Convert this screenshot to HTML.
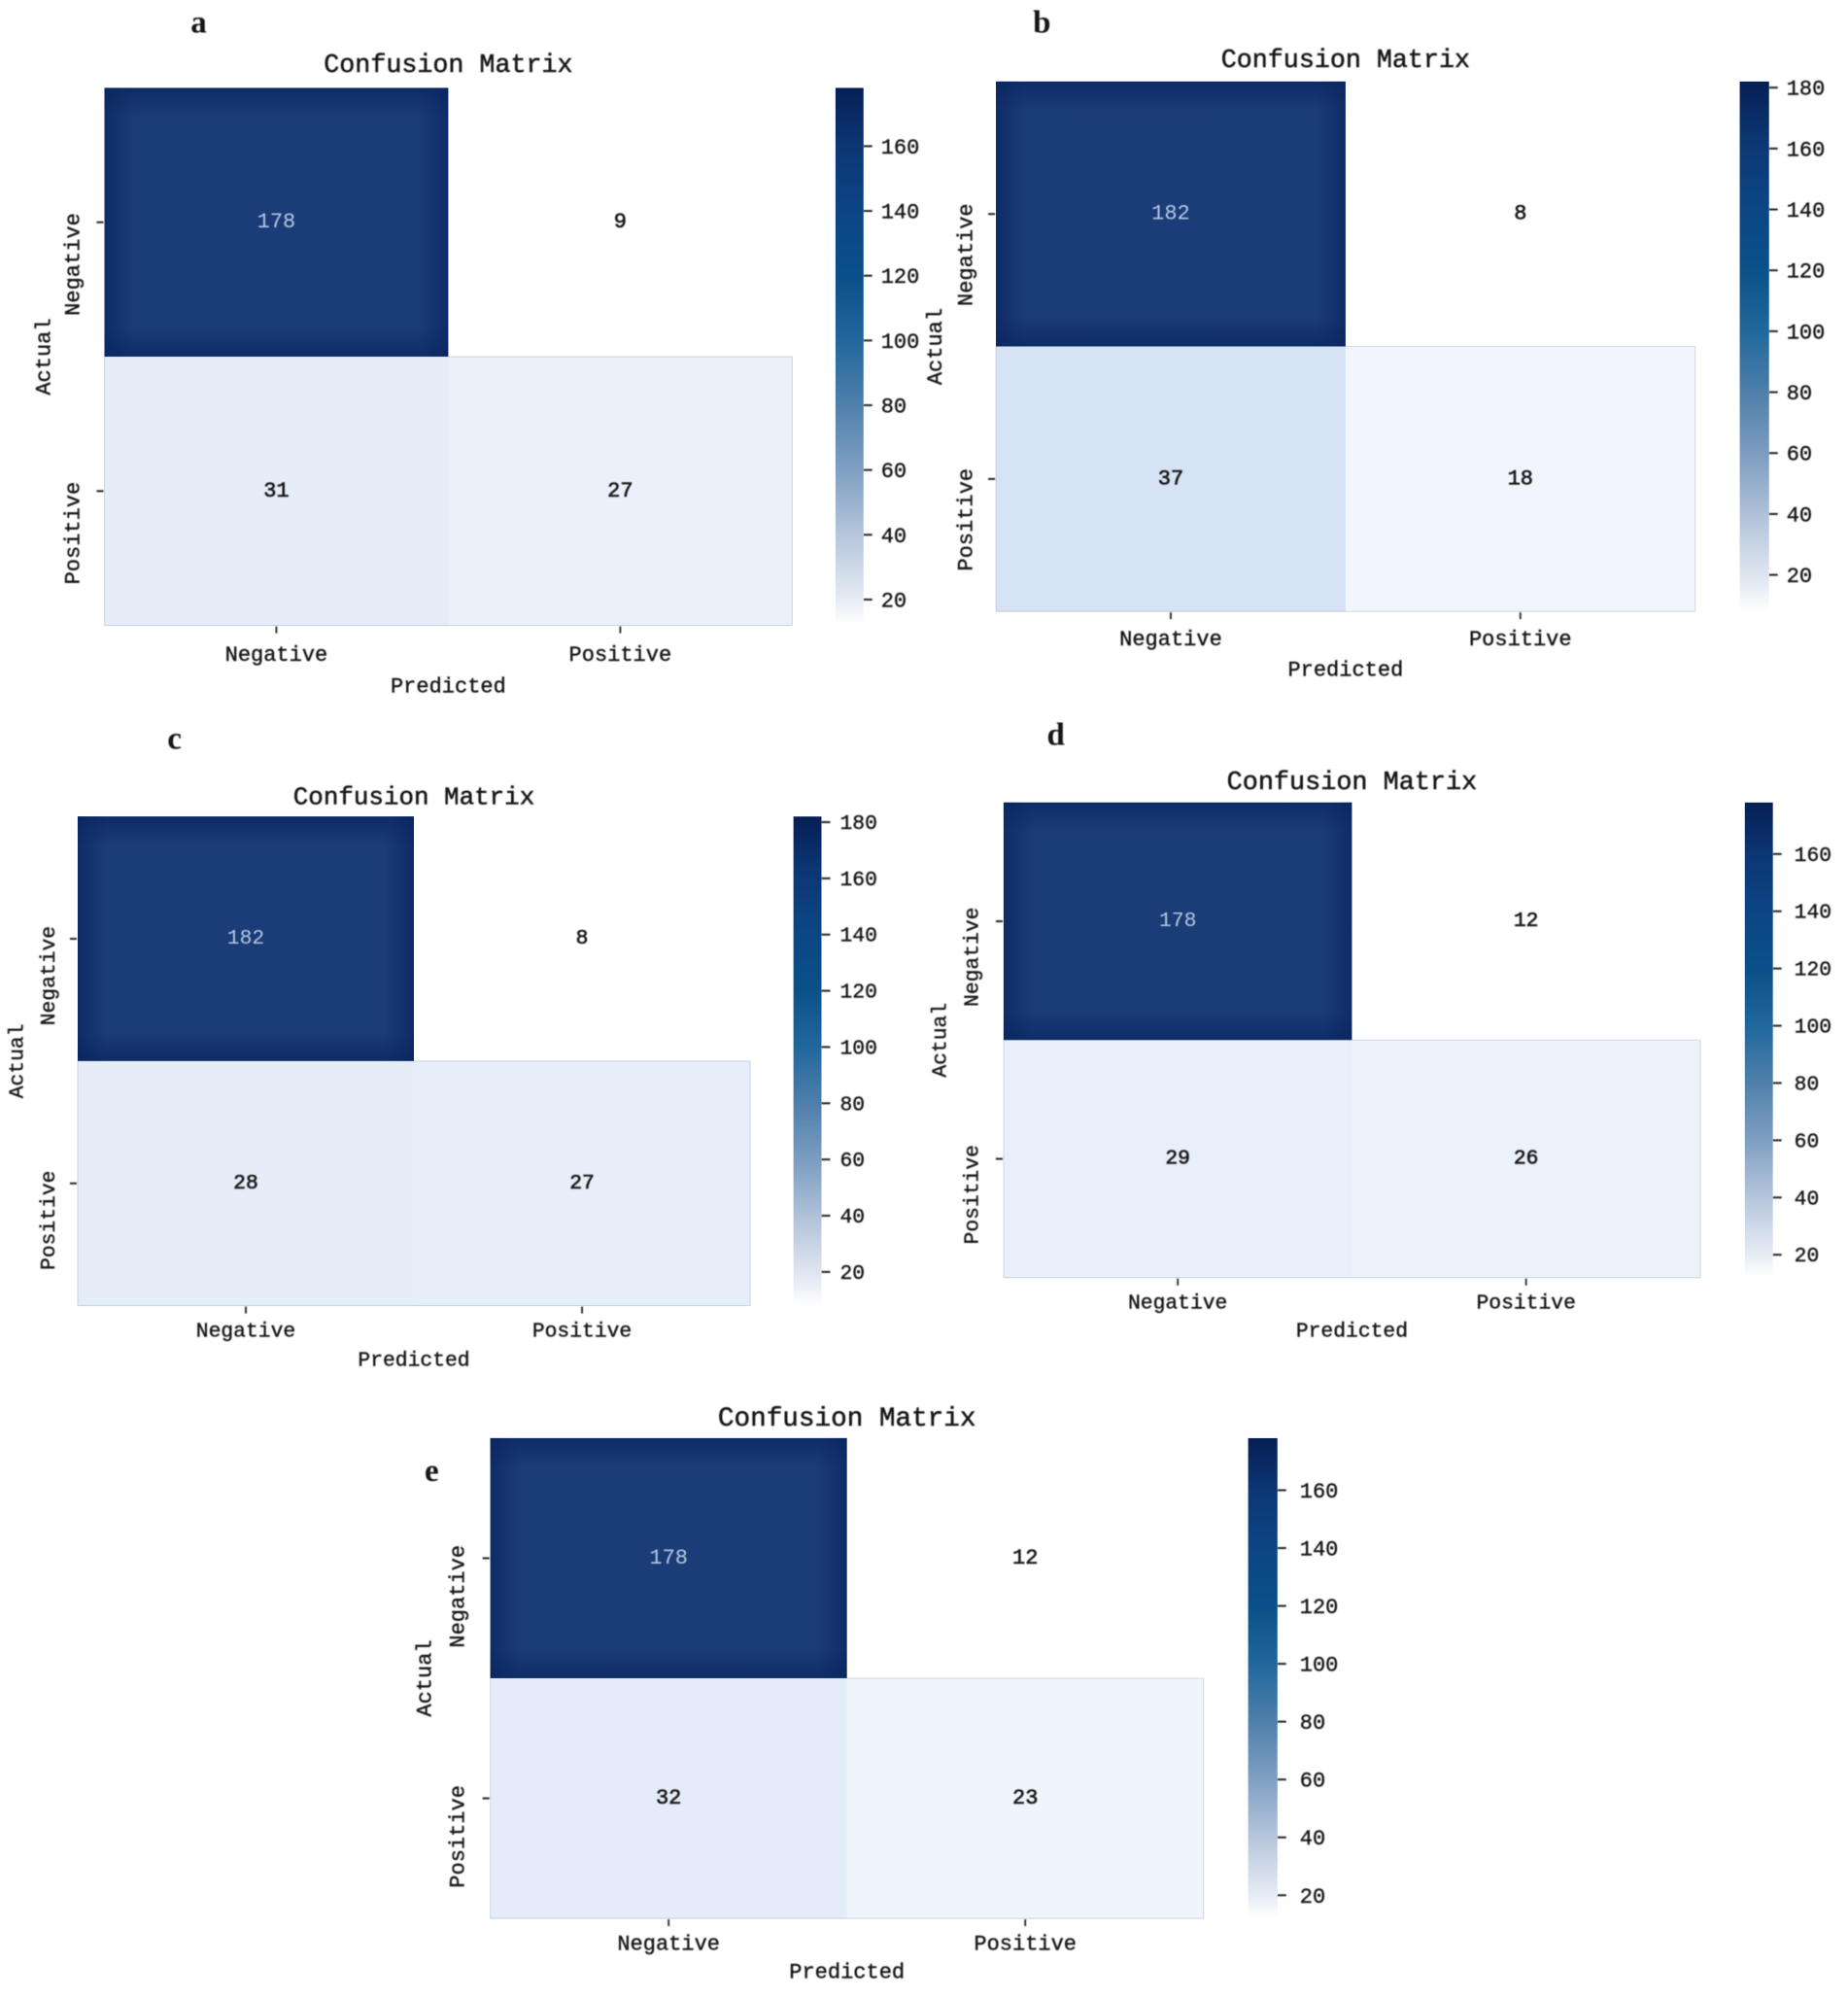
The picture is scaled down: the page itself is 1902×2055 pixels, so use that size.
<!DOCTYPE html>
<html lang="en">
<head>
<meta charset="utf-8">
<title>Confusion matrices</title>
<style>
html,body{margin:0;padding:0;background:#fff;width:1902px;height:2055px;overflow:hidden}
svg{display:block}
text{font-family:"Liberation Mono","DejaVu Sans Mono",monospace;fill:#161616}
</style>
</head>
<body>
<svg id="figure" xmlns="http://www.w3.org/2000/svg" width="1902" height="2055" viewBox="0 0 1902 2055">
  <defs>
    <filter id="soft" x="-10%" y="-10%" width="120%" height="120%"><feGaussianBlur stdDeviation="0.6"/></filter>
    <linearGradient id="edge-l" x1="0" y1="0" x2="1" y2="0"><stop offset="0" stop-color="#0a2660" stop-opacity="0.75"/><stop offset="1" stop-color="#0a2660" stop-opacity="0"/></linearGradient>
    <linearGradient id="edge-r" x1="1" y1="0" x2="0" y2="0"><stop offset="0" stop-color="#0a2660" stop-opacity="0.75"/><stop offset="1" stop-color="#0a2660" stop-opacity="0"/></linearGradient>
    <linearGradient id="edge-t" x1="0" y1="0" x2="0" y2="1"><stop offset="0" stop-color="#0a2660" stop-opacity="0.75"/><stop offset="1" stop-color="#0a2660" stop-opacity="0"/></linearGradient>
    <linearGradient id="edge-b" x1="0" y1="1" x2="0" y2="0"><stop offset="0" stop-color="#0a2660" stop-opacity="0.75"/><stop offset="1" stop-color="#0a2660" stop-opacity="0"/></linearGradient>
  </defs>
</svg>
<script>
// ---------- chart data ----------
const categories = ['Negative', 'Positive'];
const panelLetters = ['a', 'b', 'c', 'd', 'e'];
const chartTitle = 'Confusion Matrix';
const xAxisTitle = 'Predicted';
const yAxisTitle = 'Actual';

const valuesA = [[178, 9], [31, 27]];
const valuesB = [[182, 8], [37, 18]];
const valuesC = [[182, 8], [28, 27]];
const valuesD = [[178, 12], [29, 26]];
const valuesE = [[178, 12], [32, 23]];

const ticksA = [20, 40, 60, 80, 100, 120, 140, 160];
const ticksB = [20, 40, 60, 80, 100, 120, 140, 160, 180];
const ticksC = [20, 40, 60, 80, 100, 120, 140, 160, 180];
const ticksD = [20, 40, 60, 80, 100, 120, 140, 160];
const ticksE = [20, 40, 60, 80, 100, 120, 140, 160];

// colour-bar domains (low, high)
const domainA = [12, 178];
const domainB = [8, 182];
const domainC = [8, 182];
const domainD = [12, 178];
const domainE = [12, 178];

// ---------- layout (reference units, scaled by S) ----------
const S = 1902 / 1451;
const TEXT_DY = 2;
const frames = [
  {values: valuesA, ticks: ticksA, domain: domainA, x0: 82, x1: 622, y0: 69, y1: 491, bx0: 656, bx1: 678, titleY: 52, letterX: 156, letterY: 18, yLabX: 58, yTitX: 35, xLabY: 513, xTitY: 538, yOff: 33, fs: 1, ts: 1, barGap: 18},
  {values: valuesB, ticks: ticksB, domain: domainB, x0: 782, x1: 1331, y0: 64, y1: 480, bx0: 1366, bx1: 1389, titleY: 48, letterX: 818, letterY: 18, yLabX: 759, yTitX: 735, xLabY: 501, xTitY: 525, yOff: 32, fs: 1, ts: 1, barGap: 18},
  {values: valuesC, ticks: ticksC, domain: domainC, x0: 61, x1: 589, y0: 641, y1: 1025, bx0: 623, bx1: 645, titleY: 626, letterX: 137, letterY: 580, yLabX: 39, yTitX: 14, xLabY: 1044, xTitY: 1067, yOff: 29, fs: 0.97, ts: 0.97, barGap: 19},
  {values: valuesD, ticks: ticksD, domain: domainD, x0: 788, x1: 1335, y0: 630, y1: 1003, bx0: 1370, bx1: 1392, titleY: 615, letterX: 829, letterY: 577, yLabX: 764, yTitX: 739, xLabY: 1022, xTitY: 1044, yOff: 28, fs: 0.97, ts: 1.005, barGap: 22},
  {values: valuesE, ticks: ticksE, domain: domainE, x0: 385, x1: 945, y0: 1129, y1: 1506, bx0: 980, bx1: 1003, titleY: 1114, letterX: 339, letterY: 1155, yLabX: 360, yTitX: 334, xLabY: 1525, xTitY: 1547, yOff: 30, fs: 1, ts: 1.036, barGap: 23}
];

// colour ramps: [t, colour]
const cellRamp = [[0, '#ffffff'], [0.12, '#e4ecf9'], [0.17, '#d5e2f4'], [1, '#1a3c77']];
const barRamp = [[0, '#ffffff'], [0.05, '#e6ebf4'], [0.17, '#b5c5dc'], [0.29, '#7f9fc2'], [0.41, '#4f80ab'], [0.53, '#20679c'], [0.65, '#0a5088'], [0.77, '#0c4583'], [0.89, '#0c3674'], [1, '#061f53']];

// ---------- helpers ----------
const NS = 'http://www.w3.org/2000/svg';
const svg = document.getElementById('figure');
const defs = svg.querySelector('defs');

function mk(tag, parent, props) {
  const el = document.createElementNS(NS, tag);
  for (const k in props) el.setAttribute(k, props[k]);
  parent.appendChild(el);
  return el;
}
function hex(c) { return [1, 3, 5].map(i => parseInt(c.substr(i, 2), 16)); }
function rampColor(ramp, t) {
  t = Math.max(0, Math.min(1, t));
  for (let i = 1; i < ramp.length; i++) {
    if (t <= ramp[i][0]) {
      const f = (t - ramp[i - 1][0]) / (ramp[i][0] - ramp[i - 1][0]);
      const a = hex(ramp[i - 1][1]), b = hex(ramp[i][1]);
      return 'rgb(' + a.map((v, j) => Math.round(v + (b[j] - v) * f)).join(',') + ')';
    }
  }
  return ramp[ramp.length - 1][1];
}
function bandScale(count, a, b) {
  const w = (b - a) / count;
  return { start: i => a + i * w, center: i => a + (i + 0.5) * w, width: w };
}
function linScale(d0, d1, r0, r1) {
  return v => r0 + (v - d0) / (d1 - d0) * (r1 - r0);
}
function thicken(el, w) {
  el.style.stroke = '#161616';
  el.style.strokeWidth = w + 'px';
}

// ---------- drawing ----------
frames.forEach((f, p) => {
  const x0 = f.x0 * S, x1 = f.x1 * S, y0 = f.y0 * S, y1 = f.y1 * S;
  const bx0 = f.bx0 * S, bx1 = f.bx1 * S;
  const fsTick = 22 * f.fs, fsTitle = 26.7 * f.ts;
  const xBand = bandScale(categories.length, x0, x1);
  const yBand = bandScale(categories.length, y0, y1);
  const norm = linScale(f.domain[0], f.domain[1], 0, 1);
  const barY = linScale(f.domain[0], f.domain[1], y1, y0);
  const key = panelLetters[p];

  const g = mk('g', svg, {});
  
  

  // cells
  f.values.forEach((row, r) => row.forEach((v, c) => {
    const cx = xBand.start(c), cy = yBand.start(r);
    const w = xBand.width, h = yBand.width;
    const t = norm(v);
    const cell = mk('rect', g, {x: cx, y: cy, width: w + 0.3, height: h + 0.3, fill: rampColor(cellRamp, t)});
    
    
    if (t > 0.5) {
      const d = 30;
      const shadeL = mk('rect', g, {x: cx, y: cy, width: d, height: h, fill: 'url(#edge-l)'});
      
      
      const shadeR = mk('rect', g, {x: cx + w - d, y: cy, width: d, height: h, fill: 'url(#edge-r)'});
      
      
      const shadeT = mk('rect', g, {x: cx, y: cy, width: w, height: d, fill: 'url(#edge-t)'});
      
      
      const shadeB = mk('rect', g, {x: cx, y: cy + h - d, width: w, height: d, fill: 'url(#edge-b)'});
      
      
    }
  }));

  // faint frame around the lighter lower row
  const lowerFrame = mk('rect', g, {x: x0, y: yBand.start(1), width: x1 - x0, height: yBand.width, fill: 'none', stroke: '#8d9db8', 'stroke-opacity': 0.3, 'stroke-width': 1.2});
  
  

  const soft = mk('g', g, {filter: 'url(#soft)'});

  // cell annotations
  f.values.forEach((row, r) => row.forEach((v, c) => {
    const dark = norm(v) > 0.5;
    const lab = mk('text', soft, {x: xBand.center(c), y: yBand.center(r) - 2 + TEXT_DY, 'text-anchor': 'middle', 'dominant-baseline': 'central', 'font-size': fsTick});
    
    
    lab.textContent = v;
    if (dark) lab.style.fill = '#b9cbe6';
    else thicken(lab, 0.6);
  }));

  // title
  const title = mk('text', soft, {x: (x0 + x1) / 2, y: f.titleY * S, 'text-anchor': 'middle', 'dominant-baseline': 'central', 'font-size': fsTitle});
  
  
  title.textContent = chartTitle;
  thicken(title, 0.5);

  // panel letter
  const letter = mk('text', soft, {x: f.letterX * S, y: f.letterY * S, 'text-anchor': 'middle', 'dominant-baseline': 'central', 'font-size': 33, 'font-weight': 'bold'});
  
  
  letter.textContent = key;
  letter.style.fontFamily = '"Liberation Serif",serif';

  // axis ticks + labels
  categories.forEach((name, i) => {
    const tx = xBand.center(i);
    const xt = mk('line', soft, {x1: tx, x2: tx, y1: y1 + 1, y2: y1 + 8, stroke: '#222', 'stroke-width': 1.8});
    
    

    const xl = mk('text', soft, {x: tx, y: f.xLabY * S + TEXT_DY, 'text-anchor': 'middle', 'dominant-baseline': 'central', 'font-size': fsTick});
    
    
    xl.textContent = name;
    thicken(xl, 0.4);

    const ty = yBand.center(i);
    const yt = mk('line', soft, {x1: x0 - 8, x2: x0 - 1, y1: ty, y2: ty, stroke: '#222', 'stroke-width': 2});
    
    

    const lx = f.yLabX * S, ly = ty + f.yOff * S;
    const yl = mk('text', soft, {x: lx, y: ly, 'text-anchor': 'middle', 'dominant-baseline': 'central', 'font-size': fsTick, transform: 'rotate(-90 ' + lx + ' ' + ly + ')'});
    
    
    yl.textContent = name;
    thicken(yl, 0.4);
  });

  // axis titles
  const xTitle = mk('text', soft, {x: (x0 + x1) / 2, y: f.xTitY * S + TEXT_DY, 'text-anchor': 'middle', 'dominant-baseline': 'central', 'font-size': fsTick});
  
  
  xTitle.textContent = xAxisTitle;
  thicken(xTitle, 0.4);

  const tx = f.yTitX * S, ty = (y0 + y1) / 2;
  const yTitle = mk('text', soft, {x: tx, y: ty, 'text-anchor': 'middle', 'dominant-baseline': 'central', 'font-size': fsTick, transform: 'rotate(-90 ' + tx + ' ' + ty + ')'});
  
  
  yTitle.textContent = yAxisTitle;
  thicken(yTitle, 0.4);

  // colour bar
  const gradId = 'bar-grad-' + key;
  const grad = mk('linearGradient', defs, {id: gradId, x1: 0, y1: 1, x2: 0, y2: 0});
  barRamp.forEach(s => mk('stop', grad, {offset: s[0], 'stop-color': s[1]}));
  const bar = mk('rect', g, {x: bx0, y: y0, width: bx1 - bx0, height: y1 - y0, fill: 'url(#' + gradId + ')'});
  
  

  f.ticks.forEach(v => {
    const yy = barY(v);
    const tick = mk('line', soft, {x1: bx1, x2: bx1 + 9, y1: yy, y2: yy, stroke: '#222', 'stroke-width': 2});
    
    

    const lab = mk('text', soft, {x: bx1 + f.barGap, y: yy + TEXT_DY, 'dominant-baseline': 'central', 'font-size': fsTick});
    
    
    lab.textContent = v;
    thicken(lab, 0.4);
  });
});
</script>
</body>
</html>
